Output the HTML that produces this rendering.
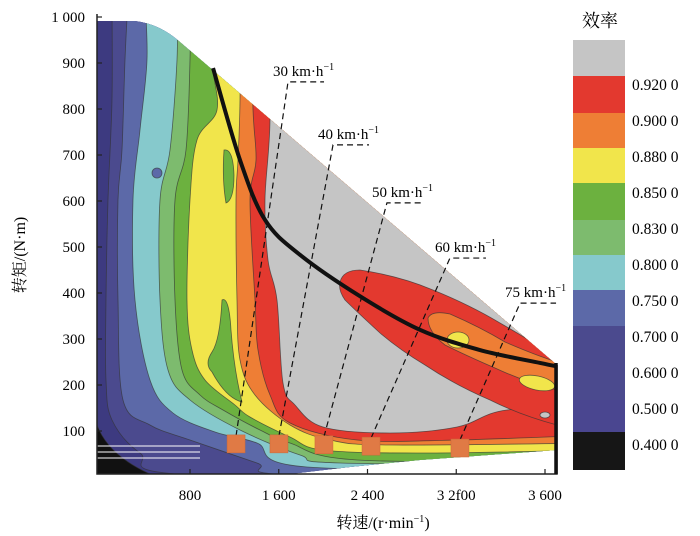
<!DOCTYPE html>
<html><head><meta charset="utf-8"><style>
body{margin:0;background:#fff;}
svg{display:block;font-family:"Liberation Serif","Noto Serif CJK SC",serif;}
</style></head><body>
<svg id="chart" width="700" height="536" viewBox="0 0 700 536" xmlns="http://www.w3.org/2000/svg">
<defs><clipPath id="env"><path d="M97,21 L135,21 Q160,24 180,42 L557,365 L557,450 L420,460 L350,467 L290,474 L97,474 Z"/></clipPath></defs>
<g id="contours" clip-path="url(#env)"></g>
<g id="marks"></g>
</svg>
<script>
const NS="http://www.w3.org/2000/svg";
// axis data
const yTickValues=[1000,900,800,700,600,500,400,300,200,100];
const yTickLabels=["1 000","900","800","700","600","500","400","300","200","100"];
const xTickLabels=["800","1 600","2 400","3 2f00","3 600"];
// optimal efficiency curve (rpm, torque)
const curveRpm=[1024,1256,1471,1772,2288,2804,3320,3837,3974];
const curveTorque=[889,689,559,483,393,320,276,248,241];
// speed operating points
const speedLabels=["30 km·h","40 km·h","50 km·h","60 km·h","75 km·h"];
const speedRpm=[1222,1591,1978,2383,3148];
const speedTorque=[72,72,70,67,63];
const labelRpm=[1669,2056,2520,3062,3665];
const labelTorque=[859,722,596,476,378];
// colorbar
const cbColors=["#c5c5c5","#e3392f","#ee7e35","#f1e54b","#6cb13f","#7dbb6e","#86c9cc","#5c69a8","#4b4a8e","#4a4690","#161616"];
const cbLabels=["0.920 0","0.900 0","0.880 0","0.850 0","0.830 0","0.800 0","0.750 0","0.700 0","0.600 0","0.500 0","0.400 0"];

const xS=r=>94+0.11625*r;
const yS=t=>477-0.46*t;
const xCat=i=>190+i*88.75;

function mk(tag,attrs,parent){const e=document.createElementNS(NS,tag);for(const k in attrs)e.setAttribute(k,attrs[k]);parent.appendChild(e);return e;}
function smooth(p){
  let d="M"+p[0][0]+","+p[0][1];
  for(let i=0;i<p.length-1;i++){
    const p0=p[i-1]||p[i],p1=p[i],p2=p[i+1],p3=p[i+2]||p2;
    const c1=[p1[0]+(p2[0]-p0[0])/6,p1[1]+(p2[1]-p0[1])/6];
    const c2=[p2[0]-(p3[0]-p1[0])/6,p2[1]-(p3[1]-p1[1])/6];
    d+=` C${c1[0]},${c1[1]} ${c2[0]},${c2[1]} ${p2[0]},${p2[1]}`;
  }
  return d;
}
const svg=document.getElementById('chart');
const C=document.getElementById('contours');
const M=document.getElementById('marks');

// contour bands (outer to inner), pixel boundary outlines of the digitised map
const bands=[
 ["dark-purple-band","#3d3a80",[[97,0],[97,480],[600,480]]],
 ["purple-band","#4b4a8e",[[112,0],[112,100],[108,200],[106,300],[106,380],[112,420],[140,453],[190,475],[600,480]]],
 ["blue-band","#5c69a8",[[128,0],[125,60],[122,150],[118,200],[118,300],[123,400],[150,425],[190,440],[257,463],[290,475],[600,480]]],
 ["cyan-band","#86c9cc",[[145,0],[147,60],[140,130],[133,200],[135,300],[150,380],[173,413],[215,432],[257,443],[307,467],[600,470]]],
 ["light-green-band","#7dbb6e",[[177,0],[177,60],[170,150],[160,200],[160,300],[168,370],[190,400],[240,430],[300,455],[340,463],[600,465]]],
 ["green-band","#6cb13f",[[190,0],[190,60],[186,150],[175,200],[175,300],[182,370],[200,395],[223,410],[260,430],[290,443],[357,460],[600,462]]],
 ["yellow-band","#f1e54b",[[205,0],[212,65],[217,110],[197,140],[190,200],[187,300],[192,350],[205,380],[235,405],[250,417],[290,437],[323,450],[423,453],[600,450]]],
 ["orange-band","#ee7e35",[[240,0],[240,100],[238,160],[236,200],[237,300],[240,360],[255,395],[290,425],[330,440],[390,445],[600,443]]],
 ["red-band","#e3392f",[[250,0],[253,110],[256,160],[250,200],[255,300],[258,350],[270,395],[290,423],[357,440],[457,440],[600,435]]],
 ["gray-band","#c5c5c5",[[268,0],[270,120],[265,200],[268,260],[277,300],[283,383],[295,405],[323,427],[390,433],[457,427],[507,410],[600,410]]]
];
for(const b of bands){
  const p=b[2];
  const d=smooth(p)+" L600,-10 L"+p[0][0]+",-10 Z";
  const el=mk('path',{d:d,fill:b[1],stroke:"#333",'stroke-width':0.8,'stroke-opacity':0.7},C);
  
  
}
const extras=[
 ["blue-blob","ellipse",{cx:157,cy:173,rx:5,ry:5,fill:"#5c69a8"}],
 ["green-finger-upper","path",{d:"M224,150 Q233,148 234,175 Q234,200 226,203 Q222,180 224,150 Z",fill:"#6cb13f"}],
 ["green-finger-lower","path",{d:"M222,300 Q229,296 231,330 Q234,370 242,402 Q226,398 212,372 Q204,364 212,352 Q220,340 222,300 Z",fill:"#6cb13f"}],
 ["red-lobe","path",{d:"M340,282 Q343,270 360,270 Q400,276 433,290 Q470,305 500,323 Q535,343 557,358 L600,360 L600,425 L557,425 Q520,415 490,400 Q455,385 425,365 Q400,350 380,333 Q355,310 345,300 Q338,290 340,282 Z",fill:"#e3392f"}],
 ["orange-lobe","path",{d:"M428,318 Q432,310 450,314 Q480,327 505,342 Q535,355 557,362 L557,390 Q525,382 495,368 Q465,355 445,345 Q428,332 428,318 Z",fill:"#ee7e35"}],
 ["yellow-island","ellipse",{cx:458,cy:340,rx:11,ry:8,fill:"#f1e54b"}],
 ["yellow-island-right","ellipse",{cx:537,cy:383,rx:18,ry:7,fill:"#f1e54b",transform:"rotate(12 537 383)"}],
 ["gray-island","ellipse",{cx:545,cy:415,rx:5,ry:3,fill:"#c5c5c5"}],
 ["black-corner","path",{d:"M97,425 Q108,455 150,474 L97,474 Z",fill:"#111"}]
];
for(const e of extras){
  const a=Object.assign({stroke:"#333",'stroke-width':0.8,'stroke-opacity':0.7},e[2]);
  const el=mk(e[1],a,C);
  
  
}
for(const yy of [446,452,458]){
  const el=mk('line',{x1:97,x2:200,y1:yy,y2:yy,stroke:"#fff",'stroke-width':1.2,opacity:0.8},C);
  
  
}

// axes
let ax=mk('path',{d:"M97,14 L97,474 L557,474 L557,365",fill:"none",stroke:"#222",'stroke-width':1.5},M);


let rb=mk('line',{x1:556,x2:556,y1:363,y2:474,stroke:"#111",'stroke-width':3.5},M);


yTickValues.forEach((v,i)=>{
  const y=yS(v);
  const t=mk('line',{x1:97,x2:102,y1:y,y2:y,stroke:"#222",'stroke-width':1.2},M);
  
  
  const l=mk('text',{x:85,y:y+5,'text-anchor':'end','font-size':15},M);
  l.textContent=yTickLabels[i];
  
  
});
xTickLabels.forEach((s,i)=>{
  const x=xCat(i);
  const t=mk('line',{x1:x,x2:x,y1:474,y2:469,stroke:"#222",'stroke-width':1.2},M);
  
  
  const l=mk('text',{x:x,y:500,'text-anchor':'middle','font-size':15},M);
  l.textContent=s;
  
  
});
let xt=mk('text',{x:383,y:528,'text-anchor':'middle','font-size':16},M);
xt.innerHTML='转速/(r·min<tspan dy="-6" font-size="10">−1</tspan><tspan dy="6">)</tspan>';


let yt=mk('text',{x:0,y:0,'text-anchor':'middle','font-size':16,transform:'translate(25,255) rotate(-90)'},M);
yt.textContent='转矩/(N·m)';



// optimal curve
const cpts=curveRpm.map((r,i)=>[xS(r),yS(curveTorque[i])]);
let cv=mk('path',{d:smooth(cpts),fill:"none",stroke:"#111",'stroke-width':4,'stroke-linejoin':'round'},M);



// speed points
speedRpm.forEach((r,i)=>{
  const x=xS(r),y=yS(speedTorque[i]);
  const lx=xS(labelRpm[i]),ly=yS(labelTorque[i]);
  const dl=mk('path',{d:`M${x},${y-8} L${lx},${ly} L${lx+36},${ly}`,fill:"none",stroke:"#111",'stroke-width':1.2,'stroke-dasharray':'6,4'},M);
  
  
  const sq=mk('rect',{x:x-9,y:y-9,width:18,height:18,fill:"#e07a45",stroke:"#c9693a",'stroke-width':0.5},M);
  
  
  const tx=mk('text',{x:lx-15,y:ly-6,'font-size':15},M);
  tx.innerHTML=speedLabels[i]+'<tspan dy="-6" font-size="10">−1</tspan>';
  
  
});

// colorbar
let ct=mk('text',{x:600,y:27,'text-anchor':'middle','font-size':18},M);
ct.textContent='效率';


const segH=[36,37,35,35,37,35,35,36,74,32,38];
let cy=40;
cbColors.forEach((c,i)=>{
  const r=mk('rect',{x:573,y:cy,width:52,height:segH[i],fill:c},M);
  
  
  cy+=segH[i];
});
cbLabels.forEach((s,i)=>{
  const l=mk('text',{x:632,y:90+i*36,'font-size':15.5},M);
  l.textContent=s;
  
  
});
</script>
</body></html>
